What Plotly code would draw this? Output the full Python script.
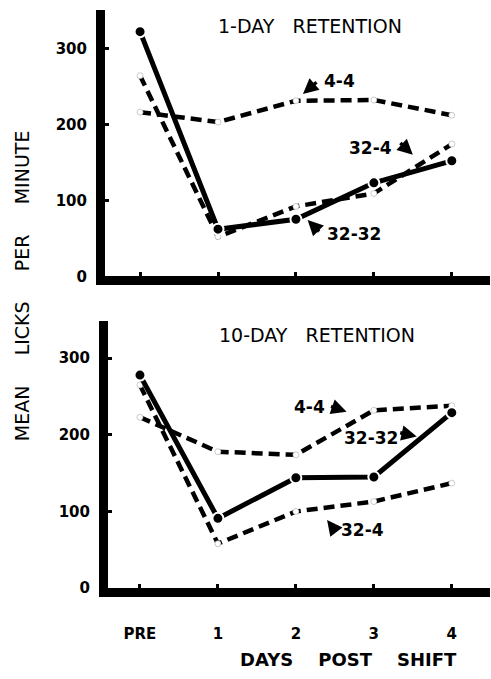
import plotly.graph_objects as go

# ---- data ----
days = [0, 1, 2, 3, 4]
day_labels = ["PRE", "1", "2", "3", "4"]
y_ticks = [0, 100, 200, 300]

# 1-day retention
one_32_32 = [322, 62, 75, 123, 152]
one_32_4 = [264, 52, 92, 109, 174]
one_4_4 = [216, 203, 231, 232, 212]

# 10-day retention
ten_32_32 = [278, 91, 144, 145, 229]
ten_32_4 = [265, 58, 100, 113, 137]
ten_4_4 = [223, 178, 174, 232, 238]

W, H = 491, 679
FONT = "DejaVu Sans"

fig = go.Figure()


def add_series(vals, xa, ya, kind):
    if kind == "solid":
        line = dict(color="black", width=5)
        marker = dict(symbol="circle", size=11, color="black",
                      line=dict(color="white", width=2))
    else:
        line = dict(color="black", width=4.5, dash="11px,6px")
        marker = dict(symbol="circle", size=6, color="white",
                      line=dict(color="#aaa", width=0.6))
    fig.add_trace(go.Scatter(x=days, y=vals, mode="lines+markers",
                             line=line, marker=marker, xaxis=xa, yaxis=ya,
                             showlegend=False, hoverinfo="skip"))


# dashed first, solid on top
add_series(one_4_4, "x", "y", "dash")
add_series(one_32_4, "x", "y", "dash")
add_series(one_32_32, "x", "y", "solid")
add_series(ten_4_4, "x2", "y2", "dash")
add_series(ten_32_4, "x2", "y2", "dash")
add_series(ten_32_32, "x2", "y2", "solid")

tickfont = dict(family=FONT, size=15, color="black", weight="bold")

axis_common = dict(showline=True, linecolor="black", linewidth=9,
                   ticks="inside", ticklen=4, tickwidth=3, tickcolor="black",
                   showgrid=False, zeroline=False, mirror=False,
                   fixedrange=True)

fig.update_layout(
    width=W, height=H,
    margin=dict(l=0, r=0, t=0, b=0),
    paper_bgcolor="white", plot_bgcolor="white",
    xaxis=dict(domain=[105 / W, 490 / W], range=[-0.45, 4.49],
               tickvals=days, showticklabels=False, anchor="y", **axis_common),
    yaxis=dict(domain=[1 - 280 / H, 1 - 10.5 / H], range=[0, 350],
               tickvals=y_ticks, tickfont=tickfont, anchor="x",
               ticklabelstandoff=6, **axis_common),
    xaxis2=dict(domain=[108 / W, 490 / W], range=[-0.41, 4.49],
                tickvals=days, ticktext=day_labels, anchor="y2",
                tickfont=dict(family=FONT, size=15, color="black", weight="bold"),
                ticklabelstandoff=24, **axis_common),
    yaxis2=dict(domain=[1 - 596 / H, 1 - 325 / H], range=[0, 349],
                tickvals=y_ticks, tickfont=tickfont, anchor="x2",
                ticklabelstandoff=6, **axis_common),
)

NB = "\u00a0"
anns = []


def ptext(text, px, py, font, angle=0):
    anns.append(dict(text=text, xref="paper", yref="paper",
                     x=px / W, y=1 - py / H, xanchor="center", yanchor="middle",
                     showarrow=False, textangle=angle, font=font))


title_font = dict(family=FONT, size=19, color="black")
ptext("1-DAY" + NB * 3 + "RETENTION", 310, 26, title_font)
ptext("10-DAY" + NB * 3 + "RETENTION", 317, 339, title_font)
ptext("MEAN" + NB * 5 + "LICKS" + NB * 5 + "PER" + NB * 5 + "MINUTE", 22, 290,
      dict(family=FONT, size=19, color="black"), -90)
ptext("DAYS" + NB * 4 + "POST" + NB * 4 + "SHIFT", 348, 668,
      dict(family=FONT, size=18, color="black", weight="bold"))

lab_font = dict(family=FONT, size=17, color="black", weight="bold")


def label(text, xa, ya, tx, ty, hx, hy, ax, ay):
    anns.append(dict(text=text, xref=xa, yref=ya, x=tx, y=ty, showarrow=False,
                     xanchor="center", yanchor="middle", font=lab_font))
    anns.append(dict(text="", xref=xa, yref=ya, x=hx, y=hy, ax=ax, ay=ay,
                     showarrow=True, arrowhead=2, arrowsize=0.9, arrowwidth=3.4,
                     standoff=0, startstandoff=0, arrowcolor="black"))


label("4-4", "x", "y", 2.56, 257, 2.09, 240, 15, -13)
label("32-4", "x", "y", 2.96, 169, 3.50, 160, -14, -13)
label("32-32", "x", "y", 2.74, 56, 2.15, 74, 13, 13)
label("4-4", "x2", "y2", 2.18, 237, 2.65, 230, -17, -6)
label("32-32", "x2", "y2", 2.96, 196, 3.55, 198, -18, -4)
label("32-4", "x2", "y2", 2.85, 76, 2.40, 89, 10, 13)

fig.update_layout(annotations=anns)

fig.write_html("out.html")
